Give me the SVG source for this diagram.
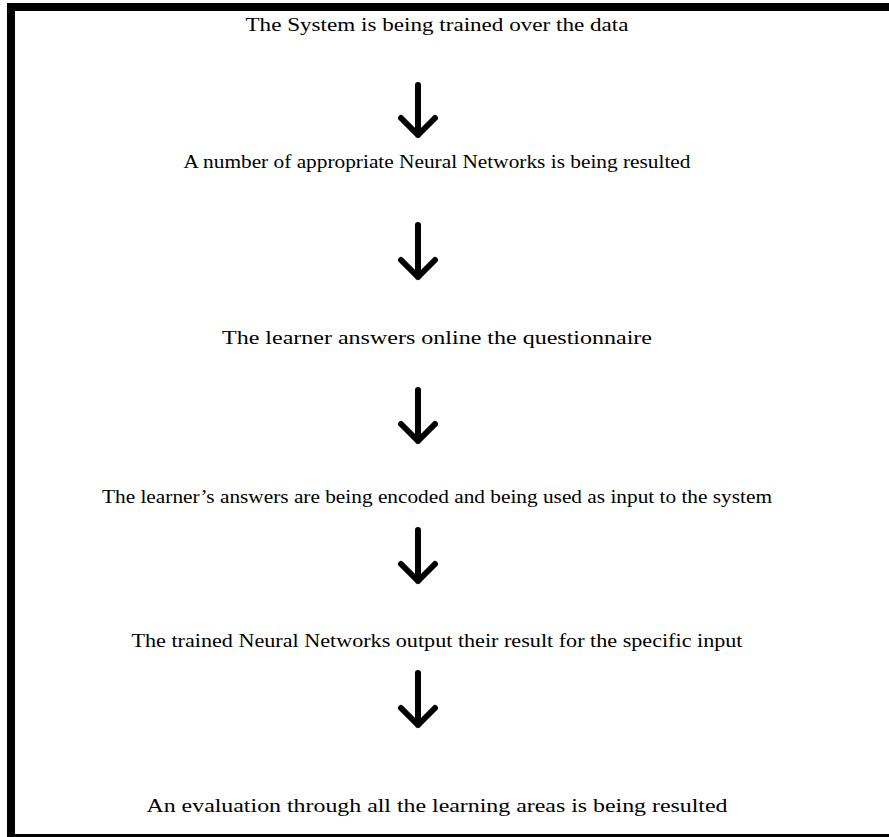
<svg xmlns="http://www.w3.org/2000/svg" width="889" height="837" viewBox="0 0 889 837">
<style>
.t{font-family:"Liberation Serif","Times New Roman",serif;font-size:19px;fill:#000;text-anchor:middle}
.a{fill:none;stroke:#000;stroke-width:6;stroke-linecap:round;stroke-linejoin:round}
</style>
<rect x="0" y="0" width="889" height="837" fill="#fff"/>
<rect x="11" y="7" width="900" height="831" fill="none" stroke="#000" stroke-width="8"/>
<g id="n1"><text class="t" x="437" y="31" textLength="383" lengthAdjust="spacingAndGlyphs">The System is being trained over the data</text></g>
<g id="n2"><text class="t" x="437" y="168" textLength="507" lengthAdjust="spacingAndGlyphs">A number of appropriate Neural Networks is being resulted</text></g>
<g id="n3"><text class="t" x="437" y="344" textLength="430" lengthAdjust="spacingAndGlyphs">The learner answers online the questionnaire</text></g>
<g id="n4"><text class="t" x="437" y="503" textLength="670" lengthAdjust="spacingAndGlyphs">The learner’s answers are being encoded and being used as input to the system</text></g>
<g id="n5"><text class="t" x="437" y="647" textLength="611" lengthAdjust="spacingAndGlyphs">The trained Neural Networks output their result for the specific input</text></g>
<g id="n6"><text class="t" x="437" y="812" textLength="581" lengthAdjust="spacingAndGlyphs">An evaluation through all the learning areas is being resulted</text></g>
<g id="connectors">
<path class="a" d="M418 85V135M401 118L418 135L435 118"/>
<path class="a" d="M418 225V277M401 260L418 277L435 260"/>
<path class="a" d="M418 390V441M401 424L418 441L435 424"/>
<path class="a" d="M418 530V581M401 564L418 581L435 564"/>
<path class="a" d="M418 673V725M401 708L418 725L435 708"/>
</g>
</svg>
